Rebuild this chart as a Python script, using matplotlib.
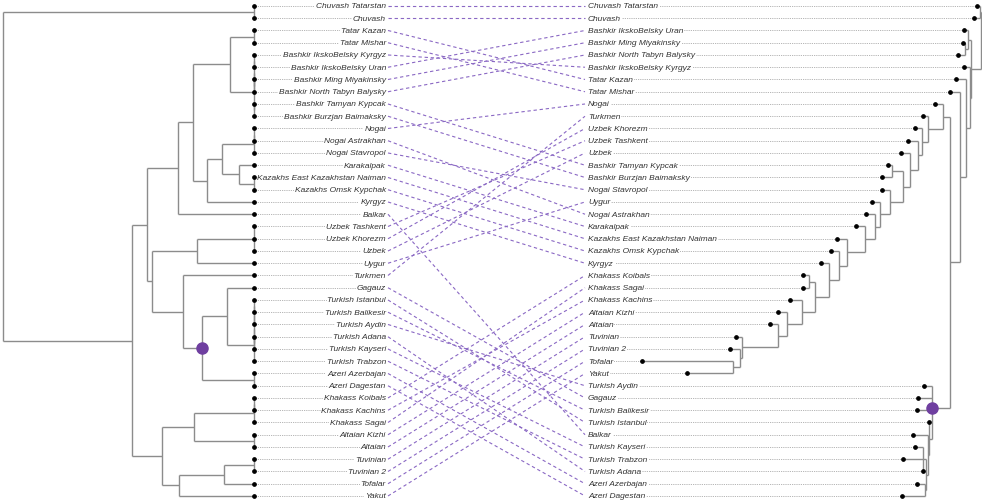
import matplotlib
matplotlib.use("Agg")
import matplotlib.pyplot as plt

# tip order, top to bottom
left_order = [
    "Chuvash Tatarstan", "Chuvash", "Tatar Kazan", "Tatar Mishar",
    "Bashkir IkskoBelsky Kyrgyz", "Bashkir IkskoBelsky Uran",
    "Bashkir Ming Miyakinsky", "Bashkir North Tabyn Balysky",
    "Bashkir Tamyan Kypcak", "Bashkir Burzjan Baimaksky", "Nogai",
    "Nogai Astrakhan", "Nogai Stavropol", "Karakalpak",
    "Kazakhs East Kazakhstan Naiman", "Kazakhs Omsk Kypchak", "Kyrgyz",
    "Balkar", "Uzbek Tashkent", "Uzbek Khorezm", "Uzbek", "Uygur",
    "Turkmen", "Gagauz", "Turkish Istanbul", "Turkish Balikesir",
    "Turkish Aydin", "Turkish Adana", "Turkish Kayseri", "Turkish Trabzon",
    "Azeri Azerbajan", "Azeri Dagestan", "Khakass Koibals",
    "Khakass Kachins", "Khakass Sagai", "Altaian Kizhi", "Altaian",
    "Tuvinian", "Tuvinian 2", "Tofalar", "Yakut",
]
right_order = [
    "Chuvash Tatarstan", "Chuvash", "Bashkir IkskoBelsky Uran",
    "Bashkir Ming Miyakinsky", "Bashkir North Tabyn Balysky",
    "Bashkir IkskoBelsky Kyrgyz", "Tatar Kazan", "Tatar Mishar", "Nogai",
    "Turkmen", "Uzbek Khorezm", "Uzbek Tashkent", "Uzbek",
    "Bashkir Tamyan Kypcak", "Bashkir Burzjan Baimaksky", "Nogai Stavropol",
    "Uygur", "Nogai Astrakhan", "Karakalpak",
    "Kazakhs East Kazakhstan Naiman", "Kazakhs Omsk Kypchak", "Kyrgyz",
    "Khakass Koibals", "Khakass Sagai", "Khakass Kachins", "Altaian Kizhi",
    "Altaian", "Tuvinian", "Tuvinian 2", "Tofalar", "Yakut",
    "Turkish Aydin", "Gagauz", "Turkish Balikesir", "Turkish Istanbul",
    "Balkar", "Turkish Kayseri", "Turkish Trabzon", "Turkish Adana",
    "Azeri Azerbajan", "Azeri Dagestan",
]

# left tree (ultrametric): node, children, height above the tips
left_merges = [
    ("chuv", ["Chuvash Tatarstan", "Chuvash"], 0),
    ("tatar", ["Tatar Kazan", "Tatar Mishar"], 0),
    ("bk_a", ["Bashkir IkskoBelsky Kyrgyz", "Bashkir IkskoBelsky Uran"], 0),
    ("bk_b", ["Bashkir Ming Miyakinsky", "Bashkir North Tabyn Balysky"], 0),
    ("bk_c", ["bk_a", "bk_b"], 0),
    ("bk_d", ["Bashkir Tamyan Kypcak", "Bashkir Burzjan Baimaksky"], 0),
    ("bashkir", ["bk_c", "bk_d"], 0),
    ("volga", ["tatar", "bashkir"], 24),
    ("nogai_a", ["Nogai", "Nogai Astrakhan"], 0),
    ("nogai", ["nogai_a", "Nogai Stavropol"], 0),
    ("kazakh", ["Kazakhs East Kazakhstan Naiman", "Kazakhs Omsk Kypchak"], 0),
    ("kk", ["Karakalpak", "kazakh"], 15),
    ("kip_a", ["nogai", "kk"], 32),
    ("kip", ["kip_a", "Kyrgyz"], 47),
    ("kv", ["volga", "kip"], 61),
    ("kvb", ["kv", "Balkar"], 76),
    ("uzbek", ["Uzbek Tashkent", "Uzbek Khorezm", "Uzbek"], 0),
    ("uu", ["uzbek", "Uygur"], 57),
    ("t_a", ["Turkish Istanbul", "Turkish Balikesir"], 0),
    ("t_b", ["t_a", "Turkish Aydin"], 0),
    ("t_c", ["Turkish Adana", "Turkish Kayseri"], 0),
    ("t_d", ["t_b", "t_c"], 0),
    ("turkish", ["t_d", "Turkish Trabzon"], 0),
    ("gt", ["Gagauz", "turkish"], 27),
    ("azeri", ["Azeri Azerbajan", "Azeri Dagestan"], 0),
    ("oghuz", ["gt", "azeri"], 52),
    ("oghuz2", ["Turkmen", "oghuz"], 71),
    ("south", ["uu", "oghuz2"], 102),
    ("west", ["kvb", "south"], 107),
    ("kh_a", ["Khakass Koibals", "Khakass Kachins"], 0),
    ("khakass", ["kh_a", "Khakass Sagai"], 0),
    ("altai", ["Altaian Kizhi", "Altaian"], 0),
    ("sayan", ["khakass", "altai"], 60),
    ("tuv", ["Tuvinian", "Tuvinian 2"], 0),
    ("tt", ["tuv", "Tofalar"], 30),
    ("tty", ["tt", "Yakut"], 75),
    ("east", ["sayan", "tty"], 92),
    ("core", ["west", "east"], 122),
    ("root", ["chuv", "core"], 251),
]

# right tree (phylogram): tip distance from the root
right_tip_depth = {
    "Chuvash Tatarstan": 4, "Chuvash": 7,
    "Bashkir IkskoBelsky Uran": 17, "Bashkir Ming Miyakinsky": 18,
    "Bashkir North Tabyn Balysky": 23, "Bashkir IkskoBelsky Kyrgyz": 17,
    "Tatar Kazan": 25, "Tatar Mishar": 31, "Nogai": 46, "Turkmen": 58,
    "Uzbek Khorezm": 66, "Uzbek Tashkent": 73, "Uzbek": 80,
    "Bashkir Tamyan Kypcak": 93, "Bashkir Burzjan Baimaksky": 99,
    "Nogai Stavropol": 99, "Uygur": 109, "Nogai Astrakhan": 115,
    "Karakalpak": 125, "Kazakhs East Kazakhstan Naiman": 144,
    "Kazakhs Omsk Kypchak": 150, "Kyrgyz": 160, "Khakass Koibals": 178,
    "Khakass Sagai": 178, "Khakass Kachins": 191, "Altaian Kizhi": 203,
    "Altaian": 211, "Tuvinian": 245, "Tuvinian 2": 251, "Tofalar": 339,
    "Yakut": 294, "Turkish Aydin": 57, "Gagauz": 63,
    "Turkish Balikesir": 64, "Turkish Istanbul": 52, "Balkar": 68,
    "Turkish Kayseri": 66, "Turkish Trabzon": 78, "Turkish Adana": 58,
    "Azeri Azerbajan": 64, "Azeri Dagestan": 79,
}

# right tree: node, children, distance from the root
right_merges = [
    ("r_chuv", ["Chuvash Tatarstan", "Chuvash"], 1),
    ("mt", ["Bashkir Ming Miyakinsky", "Bashkir North Tabyn Balysky"], 16),
    ("bash3", ["Bashkir IkskoBelsky Uran", "mt"], 13),
    ("az", ["Azeri Azerbajan", "Azeri Dagestan"], 56),
    ("s3", ["Turkish Kayseri", "Turkish Trabzon", "Turkish Adana"], 58),
    ("rr", ["s3", "az"], 55),
    ("q", ["Balkar", "rr"], 53),
    ("p2", ["Turkish Istanbul", "q"], 52),
    ("oghuz", ["Turkish Aydin", "Gagauz", "Turkish Balikesir", "p2"], 49),
    ("n733", ["Tofalar", "Yakut"], 248),
    ("n740", ["Tuvinian 2", "n733"], 241),
    ("n742", ["Tuvinian", "n740"], 239),
    ("n778", ["Altaian", "n742"], 203),
    ("n787", ["Altaian Kizhi", "n778"], 194),
    ("n802", ["Khakass Kachins", "n787"], 179),
    ("ks", ["Khakass Koibals", "Khakass Sagai"], 172),
    ("n815", ["ks", "n802"], 166),
    ("n829", ["Kyrgyz", "n815"], 152),
    ("n839", ["Kazakhs Omsk Kypchak", "n829"], 142),
    ("n847", ["Kazakhs East Kazakhstan Naiman", "n839"], 134),
    ("n865", ["Karakalpak", "n847"], 116),
    ("n875", ["Nogai Astrakhan", "n865"], 106),
    ("n880", ["Uygur", "n875"], 101),
    ("n890", ["Nogai Stavropol", "n880"], 91),
    ("bt", ["Bashkir Tamyan Kypcak", "Bashkir Burzjan Baimaksky"], 89),
    ("n903", ["bt", "n890"], 78),
    ("n910", ["Uzbek", "n903"], 71),
    ("n918", ["Uzbek Tashkent", "n910"], 63),
    ("n922", ["Uzbek Khorezm", "n918"], 59),
    ("n928", ["Turkmen", "n922"], 53),
    ("n943", ["Nogai", "n928"], 38),
    ("n950", ["n943", "oghuz"], 31),
    ("n960", ["Tatar Mishar", "n950"], 21),
    ("tk", ["Tatar Kazan", "n960"], 15),
    ("x", ["Bashkir IkskoBelsky Kyrgyz", "tk"], 11),
    ("a", ["bash3", "x"], 10),
    ("r_root", ["r_chuv", "a"], 0),
]

marked = "oghuz"

LEFT_TIP_X = 254
LEFT_LABEL_X = 386
RIGHT_LABEL_X = 588
RIGHT_ROOT_X = 981
LINK_X0, LINK_X1 = 388, 585

BRANCH = "#8c8c8c"
TEXT = "#333333"
LINK = "#8a68c4"
PURPLE = "#6f3fa0"


def layout(merges, tip_x, tip_y, node_x):
    pos = {t: (tip_x[t], tip_y[t]) for t in tip_y}
    for name, kids, h in merges:
        y = sum(pos[c][1] for c in kids) / len(kids)
        pos[name] = (node_x(h), y)
    return pos


def draw_tree(ax, merges, pos):
    for name, kids, _ in merges:
        x, y = pos[name]
        ys = [pos[c][1] for c in kids]
        ax.plot([x, x], [min(ys), max(ys)], color=BRANCH, lw=1.0,
                solid_capstyle="butt", zorder=2)
        for c in kids:
            cx, cy = pos[c]
            ax.plot([cx, x], [cy, cy], color=BRANCH, lw=1.0,
                    solid_capstyle="butt", zorder=2)


left_y = {t: i for i, t in enumerate(left_order)}
right_y = {t: i for i, t in enumerate(right_order)}

left_pos = layout(left_merges, {t: LEFT_TIP_X for t in left_order}, left_y,
                  lambda h: LEFT_TIP_X - h)
right_pos = layout(right_merges,
                   {t: RIGHT_ROOT_X - d for t, d in right_tip_depth.items()},
                   right_y, lambda d: RIGHT_ROOT_X - d)

fig = plt.figure(figsize=(9.82, 5.02), dpi=100)
ax = fig.add_axes([0, 0, 1, 1])
ax.set_xlim(0, 982)
ax.set_ylim(40.41, -0.571)
ax.set_axis_off()

draw_tree(ax, left_merges, left_pos)
draw_tree(ax, right_merges, right_pos)

lab = dict(fontsize=6, style="italic", color=TEXT, va="center",
           family=["Liberation Sans", "DejaVu Sans"], zorder=3,
           bbox=dict(fc="white", ec="none", pad=0.6))

for t in left_order:
    x, y = left_pos[t]
    ax.plot([x, LEFT_LABEL_X], [y, y], color="#9a9a9a", lw=0.6,
            ls=(0, (1, 1.2)), zorder=1)
    ax.plot(x, y, "o", color="black", ms=2.4, zorder=4)
    ax.text(LEFT_LABEL_X, y, t, ha="right", **lab)

for t in right_order:
    x, y = right_pos[t]
    ax.plot([RIGHT_LABEL_X, x], [y, y], color="#9a9a9a", lw=0.6,
            ls=(0, (1, 1.2)), zorder=1)
    ax.plot(x, y, "o", color="black", ms=2.4, zorder=4)
    ax.text(RIGHT_LABEL_X, y, t, ha="left", **lab)

# links between matching tips
for t in left_order:
    ax.plot([LINK_X0, LINK_X1], [left_y[t], right_y[t]], color=LINK,
            lw=0.8, ls=(0, (3, 2.5)), zorder=1)

for pos in (left_pos, right_pos):
    x, y = pos[marked]
    ax.plot(x, y, "o", color=PURPLE, ms=8, zorder=5)

fig.savefig("out.png", dpi=100)
